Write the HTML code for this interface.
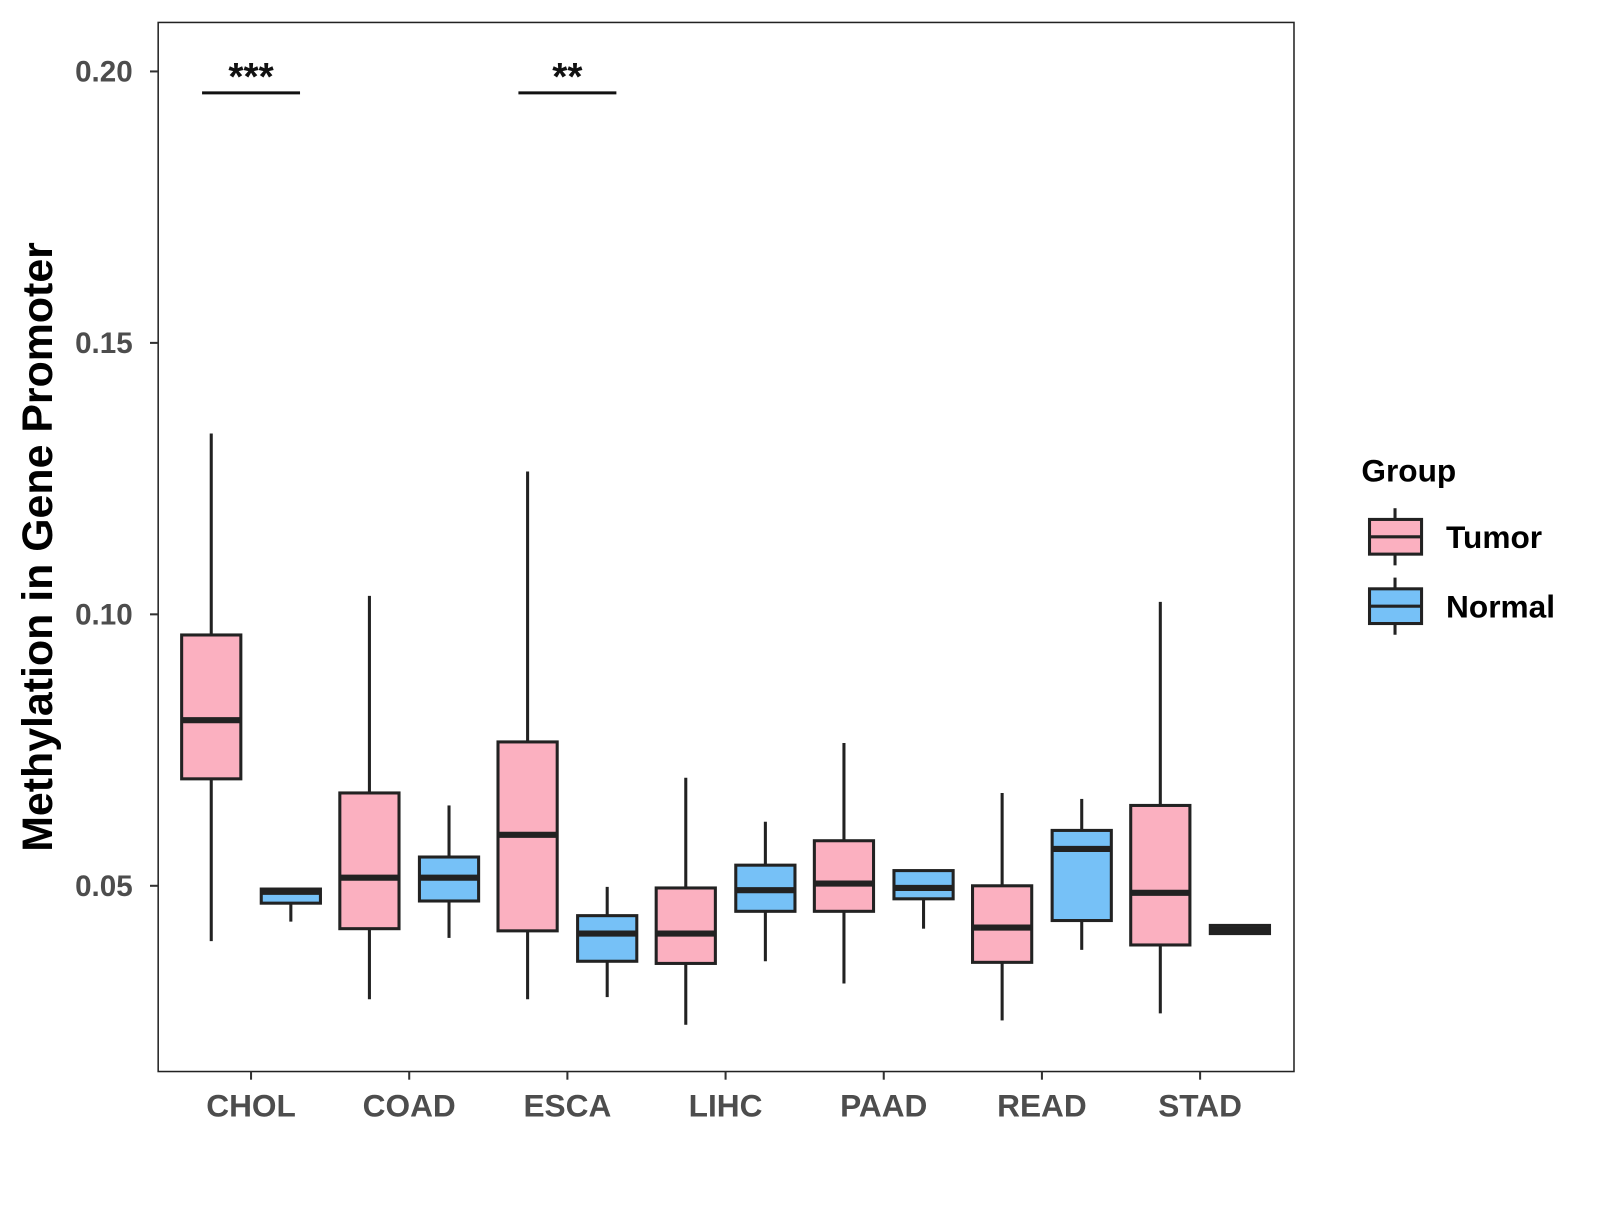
<!DOCTYPE html>
<html><head><meta charset="utf-8"><style>
body{margin:0;background:#fff;font-family:"Liberation Sans",Arial,sans-serif;}
svg text{font-family:"Liberation Sans",Arial,sans-serif;font-weight:bold;}
</style></head><body>
<svg id="chart" width="1600" height="1200" xmlns="http://www.w3.org/2000/svg">
<rect x="0" y="0" width="1600" height="1200" fill="#fff"/>
<g id="root" transform="scale(1.0205)"></g>
</svg>
<script>
const categories=["CHOL","COAD","ESCA","LIHC","PAAD","READ","STAD"];
const tumorMin=[0.0398,0.0291,0.0291,0.0244,0.0320,0.0252,0.0265];
const tumorQ1=[0.0697,0.0421,0.0417,0.0357,0.0453,0.0359,0.0391];
const tumorMed=[0.0805,0.0515,0.0594,0.0412,0.0504,0.0423,0.0487];
const tumorQ3=[0.0962,0.0671,0.0765,0.0496,0.0583,0.0500,0.0648];
const tumorMax=[0.1333,0.1034,0.1263,0.0699,0.0763,0.0671,0.1023];
const normalMin=[0.0434,0.0404,0.0295,0.0361,0.0421,0.0382,0.0410];
const normalQ1=[0.0468,0.0472,0.0361,0.0453,0.0476,0.0436,0.0412];
const normalMed=[0.0489,0.0515,0.0412,0.0492,0.0496,0.0568,0.0419];
const normalQ3=[0.0494,0.0553,0.0445,0.0538,0.0528,0.0602,0.0427];
const normalMax=[0.0494,0.0648,0.0498,0.0618,0.0528,0.0660,0.0428];
const yTicks=[0.05,0.10,0.15,0.20];
const yTickLabels=["0.05","0.10","0.15","0.20"];
const sigCats=["CHOL","ESCA"];
const sigLabels=["***","**"];

const NS="http://www.w3.org/2000/svg";
const svg=document.getElementById('root');
const PL=155,PR=1268,PT=22,PB=1050;
function y(v){return 70+(0.20-v)*5320;}
function x(i){return 246+i*155;}
function el(tag,attrs,parent){const e=document.createElementNS(NS,tag);for(const k in attrs)e.setAttribute(k,attrs[k]);(parent||svg).appendChild(e);return e;}

const panel=el('rect',{x:PL,y:PT,width:PR-PL,height:PB-PT,fill:'#fff',stroke:'#222','stroke-width':1.5});



yTicks.forEach((t,i)=>{
  const tk=el('line',{x1:PL-8,x2:PL,y1:y(t),y2:y(t),stroke:'#333','stroke-width':2});
  
  
  const tl=el('text',{x:PL-25,y:y(t)+10,'text-anchor':'end','font-size':29,fill:'#4d4d4d'});
  tl.textContent=yTickLabels[i];
  
  
});
categories.forEach((c,i)=>{
  const tk=el('line',{x1:x(i),x2:x(i),y1:PB,y2:PB+8,stroke:'#333','stroke-width':2});
  
  
  const tl=el('text',{x:x(i),y:PB+44,'text-anchor':'middle','font-size':31,fill:'#4d4d4d'});
  tl.textContent=c;
  
  
});

function box(cx,mn,q1,md,q3,mx,fill,name){
  const g=el('g',{});
  
  
  el('line',{x1:cx,x2:cx,y1:y(mx),y2:y(q3),stroke:'#222','stroke-width':3},g);
  el('line',{x1:cx,x2:cx,y1:y(q1),y2:y(mn),stroke:'#222','stroke-width':3},g);
  el('rect',{x:cx-29,y:y(q3),width:58,height:Math.max(y(q1)-y(q3),1),fill:fill,stroke:'#222','stroke-width':3},g);
  el('line',{x1:cx-29,x2:cx+29,y1:y(md),y2:y(md),stroke:'#222','stroke-width':6},g);
}
categories.forEach((c,i)=>{
  box(x(i)-39,tumorMin[i],tumorQ1[i],tumorMed[i],tumorQ3[i],tumorMax[i],'#fbb0c0','tumor-box-'+c.toLowerCase());
  box(x(i)+39,normalMin[i],normalQ1[i],normalMed[i],normalQ3[i],normalMax[i],'#76c1f7','normal-box-'+c.toLowerCase());
});

sigCats.forEach((c,k)=>{
  const i=categories.indexOf(c);
  const l=el('line',{x1:x(i)-48,x2:x(i)+48,y1:91,y2:91,stroke:'#111','stroke-width':3});
  
  
  const t=el('text',{x:x(i),y:88,'text-anchor':'middle','font-size':38,fill:'#111'});
  t.textContent=sigLabels[k];
  
  
});

const yt=el('text',{x:0,y:0,transform:'translate(51,536) rotate(-90)','text-anchor':'middle','font-size':42,fill:'#000'});
yt.textContent='Methylation in Gene Promoter';



const lt=el('text',{x:1334,y:472,'font-size':31,fill:'#000'});
lt.textContent='Group';


[['Tumor','#fbb0c0',526],['Normal','#76c1f7',594]].forEach(([n,f,cy])=>{
  const g=el('g',{});
  
  
  el('line',{x1:1367,x2:1367,y1:cy-28,y2:cy+28,stroke:'#222','stroke-width':3},g);
  el('rect',{x:1342,y:cy-17,width:51,height:34,fill:f,stroke:'#222','stroke-width':3},g);
  el('line',{x1:1342,x2:1393,y1:cy,y2:cy,stroke:'#222','stroke-width':3},g);
  const t=el('text',{x:1417,y:cy+11,'font-size':31,fill:'#000'},g);
  t.textContent=n;
});
</script>
</body></html>
